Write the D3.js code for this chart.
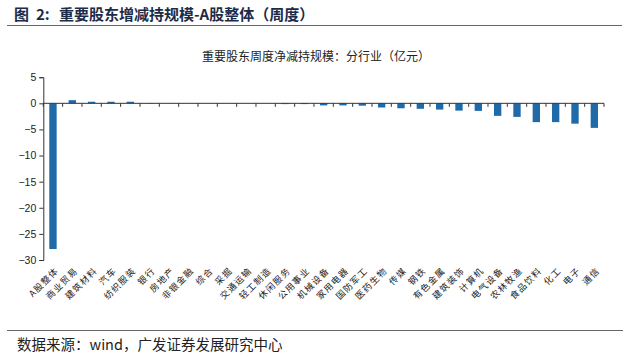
<!DOCTYPE html>
<html><head><meta charset="utf-8">
<script src="https://cdn.jsdelivr.net/npm/d3@7/dist/d3.min.js"></script>
<style>body{margin:0;background:#fff;}svg{display:block;}</style>
</head><body>
<svg id="c" width="632" height="357"></svg>
<script>
const categories = ["A股整体","商业贸易","建筑材料","汽车","纺织服装","银行","房地产","非银金融","综合","采掘","交通运输","轻工制造","休闲服务","公用事业","机械设备","家用电器","国防军工","医药生物","传媒","钢铁","有色金属","建筑装饰","计算机","电气设备","农林牧渔","食品饮料","化工","电子","通信"];
const values = [-27.9,0.6,0.3,0.3,0.3,0.05,0.02,0,0,0,0,0,-0.15,-0.15,-0.4,-0.4,-0.45,-0.8,-0.95,-1.05,-1.2,-1.4,-1.45,-2.4,-2.6,-3.6,-3.6,-3.9,-4.7];
const yTicks = [5,0,-5,-10,-15,-20,-25,-30];
const figTitleParts = ["图", "2:", "重要股东增减持规模-A股整体（周度）"];
const chartTitle = "重要股东周度净减持规模：分行业（亿元）";
const source = "数据来源：wind，广发证券发展研究中心";

const svg = d3.select("#c");
const cjk = "'Noto Sans CJK SC', sans-serif";
const lat = "'Liberation Sans', Arial, sans-serif";

const ft = svg.append("text").attr("y",20).attr("font-family",cjk).attr("font-weight","bold")
  .attr("font-size",15).attr("fill","#1b2b48");
ft.append("tspan").attr("x",14).text(figTitleParts[0]);
ft.append("tspan").attr("x",36).text(figTitleParts[1]);
ft.append("tspan").attr("x",59).text(figTitleParts[2]);
svg.append("line").attr("x1",7).attr("x2",622).attr("y1",25.5).attr("y2",25.5).attr("stroke","#666").attr("stroke-width",1);

svg.append("text").attr("x",316).attr("y",61).attr("text-anchor","middle").attr("font-family",cjk)
  .attr("font-size",12).attr("fill","#222").text(chartTitle);

const x = d3.scaleBand().domain(categories).range([43.3,604]).paddingInner(0.62).paddingOuter(0.31);
const y = d3.scaleLinear().domain([-30,5]).range([260,77.2]);

// bars
svg.append("g").selectAll("rect").data(values).join("rect")
  .attr("x",(d,i)=>x(categories[i]))
  .attr("width",x.bandwidth())
  .attr("y",d=>y(Math.max(0,d)))
  .attr("height",d=>Math.abs(y(d)-y(0)))
  .attr("fill","#1f6aa8");

// y axis
const ya = svg.append("g").attr("transform","translate(43.3,0)")
  .call(d3.axisLeft(y).tickValues(yTicks).tickSize(4).tickPadding(3).tickFormat(d3.format("d")));
ya.select(".domain").attr("stroke","#333");
ya.selectAll(".tick line").attr("stroke","#333");
ya.selectAll("text").attr("font-family",lat).attr("font-size",10.5).attr("fill","#222");

// x axis line with ticks at band boundaries
const x0 = 43.3;
const bounds = d3.range(categories.length+1).map(k=>x0+k*(604-x0)/categories.length);
svg.append("line").attr("x1",43.3).attr("x2",604).attr("y1",y(0)).attr("y2",y(0)).attr("stroke","#333");
svg.append("g").selectAll("line").data(bounds).join("line")
  .attr("x1",d=>d).attr("x2",d=>d).attr("y1",y(0)).attr("y2",y(0)+3.5).attr("stroke","#333");

// x labels
svg.append("g").selectAll("text").data(categories).join("text")
  .attr("transform",d=>`translate(${x(d)+x.bandwidth()/2+4},269) rotate(-45)`)
  .attr("text-anchor","end").attr("dy","0.35em")
  .attr("font-family",cjk).attr("font-size",9).attr("letter-spacing",1.2).attr("fill","#222").text(d=>d);

svg.append("line").attr("x1",7).attr("x2",623).attr("y1",330.5).attr("y2",330.5).attr("stroke","#666").attr("stroke-width",1);
svg.append("text").attr("x",17).attr("y",350).attr("font-family",cjk)
  .attr("font-size",14.5).attr("fill","#222").text(source);
</script>
</body></html>
